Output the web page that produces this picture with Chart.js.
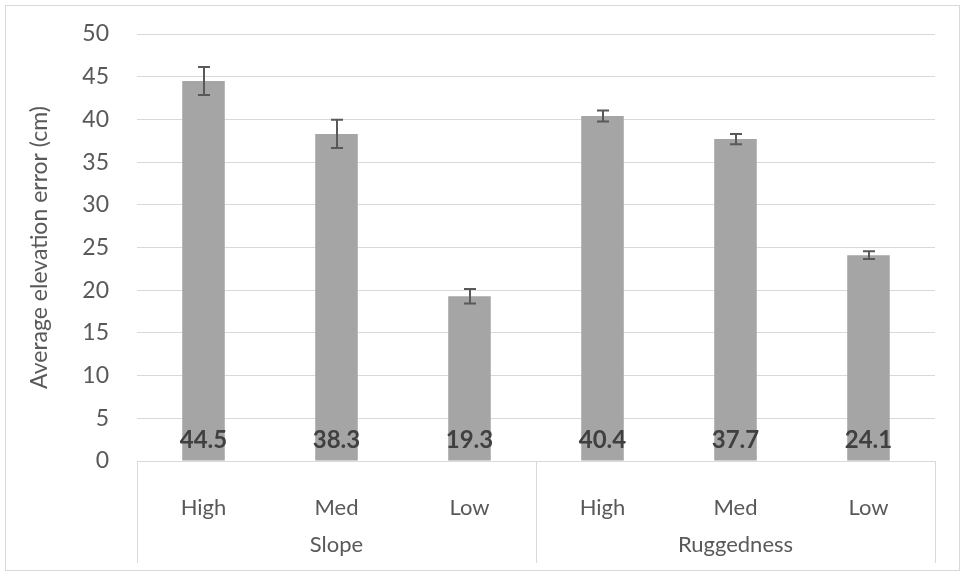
<!DOCTYPE html>
<html>
<head>
<meta charset="utf-8">
<script src="https://cdn.jsdelivr.net/npm/chart.js@4.4.1/dist/chart.umd.min.js"></script>
<style>
  html, body { margin: 0; padding: 0; background: #fff; }
  #wrap { width: 965px; height: 576px; position: relative; }
</style>
</head>
<body>
<div id="wrap"><canvas id="BarChart"></canvas></div>
<script>
// data
const groups = ['Slope', 'Ruggedness'];
const levels = ['High', 'Med', 'Low', 'High', 'Med', 'Low'];
const avgError = [44.5, 38.3, 19.3, 40.4, 37.7, 24.1];
const stdError = [1.65, 1.65, 0.85, 0.65, 0.6, 0.45];
const yTicks = [0, 5, 10, 15, 20, 25, 30, 35, 40, 45, 50];

const fontFam = 'Lato, "Open Sans", sans-serif';
const textGray = '#595959';
const lineGray = '#d9d9d9';

// draws frame, error bars, value labels and the group axis
const extras = {
    id: 'extras',
    beforeDraw(chart) {
        const ctx = chart.ctx;
        ctx.save();
        ctx.fillStyle = '#fff';
        ctx.fillRect(0, 0, chart.width, chart.height);
        ctx.strokeStyle = lineGray;
        ctx.lineWidth = 1;
        ctx.strokeRect(5.5, 5.5, chart.width - 11, chart.height - 11);
        ctx.restore();
    },
    afterDatasetsDraw(chart) {
        const ctx = chart.ctx;
        const x = chart.scales.x;
        const y = chart.scales.y;
        ctx.save();

        // error bars
        ctx.strokeStyle = '#595959';
        ctx.lineWidth = 2;
        avgError.forEach((v, i) => {
            const cx = Math.round(x.getPixelForValue(i));
            const top = y.getPixelForValue(v + stdError[i]);
            const bot = y.getPixelForValue(v - stdError[i]);
            ctx.beginPath();
            ctx.moveTo(cx, top); ctx.lineTo(cx, bot);
            ctx.moveTo(cx - 6, top); ctx.lineTo(cx + 6, top);
            ctx.moveTo(cx - 6, bot); ctx.lineTo(cx + 6, bot);
            ctx.stroke();
        });

        // value labels near the bar base
        ctx.fillStyle = '#404040';
        ctx.font = 'bold 24px ' + fontFam;
        ctx.textAlign = 'center';
        ctx.textBaseline = 'middle';
        avgError.forEach((v, i) => {
            ctx.fillText(v.toFixed(1), x.getPixelForValue(i), y.getPixelForValue(0) - 21);
        });

        // group axis: separators and group names
        const base = y.getPixelForValue(0);
        const lineBottom = 563;
        const mid = (x.getPixelForValue(2) + x.getPixelForValue(3)) / 2;
        ctx.strokeStyle = lineGray;
        ctx.lineWidth = 1;
        [chart.chartArea.left, mid, chart.chartArea.right].forEach(px => {
            const p = Math.round(px) + 0.5;
            ctx.beginPath();
            ctx.moveTo(p, base);
            ctx.lineTo(p, lineBottom);
            ctx.stroke();
        });
        ctx.fillStyle = textGray;
        ctx.font = '22px ' + fontFam;
        ctx.fillText(groups[0], (chart.chartArea.left + mid) / 2, 545);
        ctx.fillText(groups[1], (mid + chart.chartArea.right) / 2, 545);
        ctx.restore();
    }
};

const data = {
    labels: levels,
    datasets: [{
        data: avgError,
        backgroundColor: '#a5a5a5',
        borderWidth: 0,
        categoryPercentage: 1,
        barPercentage: 0.32
    }]
};

const config = {
    type: 'bar',
    data,
    options: {
        responsive: true,
        maintainAspectRatio: false,
        animation: false,
        layout: {
            padding: { top: 34, right: 30, left: 26, bottom: 0 }
        },
        scales: {
            x: {
                grid: { display: false },
                border: { display: true, color: lineGray, width: 1 },
                ticks: {
                    color: textGray,
                    font: { family: fontFam, size: 22 },
                    padding: 26
                },
                afterFit: scale => { scale.height = 115; }
            },
            y: {
                min: 0,
                max: 50,
                afterBuildTicks: scale => {
                    scale.ticks = yTicks.map(v => ({ value: v }));
                },
                grid: { color: lineGray, drawTicks: false },
                border: { display: false },
                ticks: {
                    color: textGray,
                    font: { family: fontFam, size: 23 },
                    padding: 28
                },
                title: {
                    display: true,
                    text: 'Average elevation error (cm)',
                    color: textGray,
                    font: { family: fontFam, size: 23 },
                    padding: { top: 0, bottom: 6 }
                },
                afterFit: scale => {
                    scale.width = 111;
                    // tick padding would otherwise push the plot top down
                    scale.paddingTop = 14;
                    scale.paddingBottom = 14;
                }
            }
        },
        plugins: {
            legend: { display: false },
            tooltip: { enabled: false }
        }
    },
    plugins: [extras]
};

const chartCanvas = document.getElementById('BarChart');
const barChart = new Chart(chartCanvas, config);
</script>
</body>
</html>
